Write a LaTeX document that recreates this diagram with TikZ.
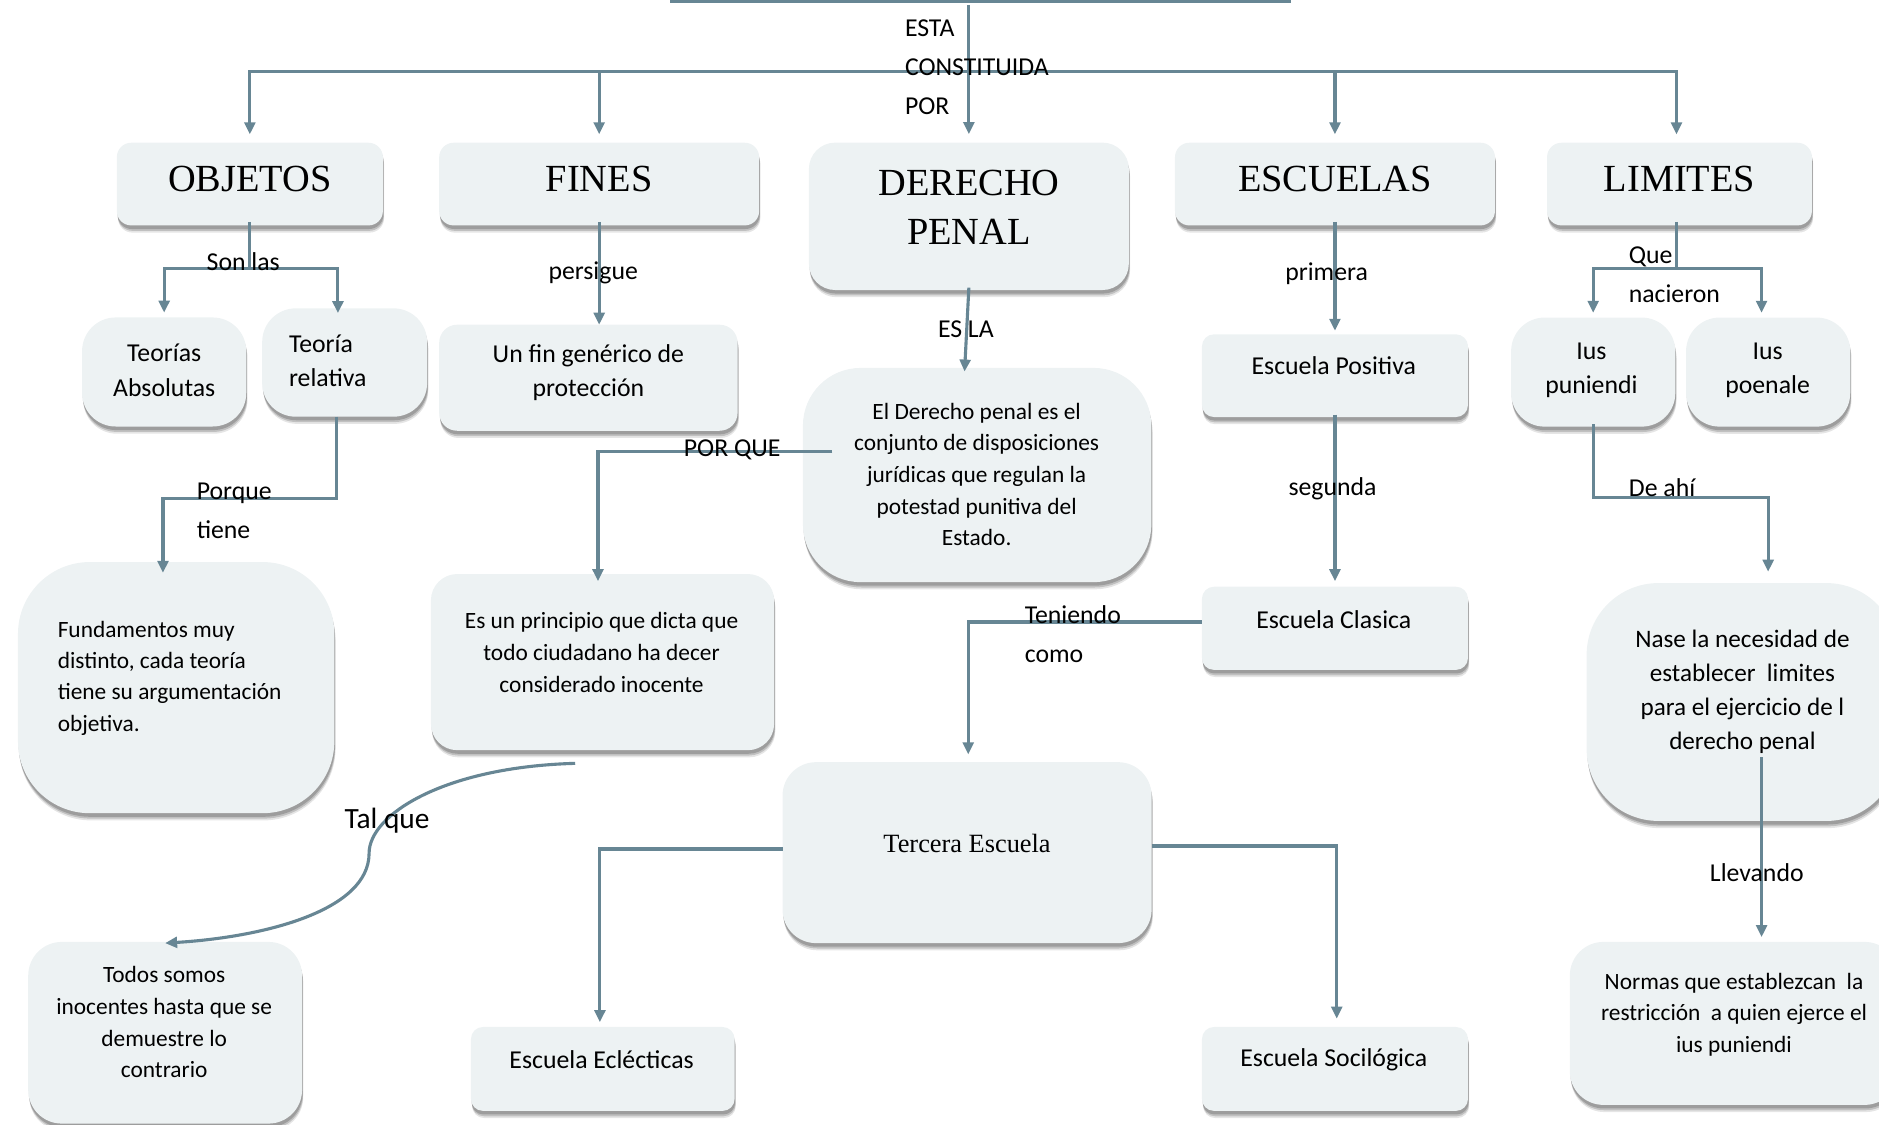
\documentclass[tikz,border=0pt]{standalone}
\usepackage{fontspec}
\setmainfont{Carlito}
\newfontfamily\serifttl{Liberation Serif}
\usetikzlibrary{arrows.meta,shadows}
\definecolor{lnc}{HTML}{678694}
\definecolor{boxc}{HTML}{EDF2F3}
\begin{document}
\begin{tikzpicture}[x=1pt,y=-1pt,
 box/.style={draw=none, fill=boxc, inner sep=0pt, outer sep=0pt,
   drop shadow={shadow xshift=1pt, shadow yshift=-6pt, opacity=0.10, fill=black},
   drop shadow={shadow xshift=0.8pt, shadow yshift=-4.5pt, opacity=0.16, fill=black},
   drop shadow={shadow xshift=0.5pt, shadow yshift=-3pt, opacity=0.18, fill=black}},
 conn/.style={draw=lnc, line width=2.6pt},
 arr/.style={conn, -{Triangle[width=9pt,length=10pt]}},
 lbl/.style={font=\fontsize{21.5}{32.5}\selectfont, inner sep=0pt, align=left},
 ttl/.style={font=\serifttl\fontsize{32}{41}\selectfont, inner sep=0pt, align=center},
 txs/.style={font=\fontsize{21.5}{28.8}\selectfont, inner sep=0pt, align=center},
 txl/.style={font=\fontsize{19.5}{26.4}\selectfont, inner sep=0pt, align=center},
]
\useasboundingbox (0,0) rectangle (1568,938);

% ---------- boxes ----------
\node[box, rounded corners=12pt, minimum width=222pt, minimum height=69pt] (obj) at (208.5,153.6) {};
\node[box, rounded corners=12pt, minimum width=267pt, minimum height=69pt] (fin) at (500,153.6) {};
\node[box, rounded corners=22pt, minimum width=267pt, minimum height=123pt] (dp) at (808.5,180.5) {};
\node[box, rounded corners=12pt, minimum width=267pt, minimum height=69pt] (esc) at (1114,153.6) {};
\node[box, rounded corners=12pt, minimum width=221pt, minimum height=69pt] (lim) at (1401.5,153.6) {};

\node[box, rounded corners=28pt, minimum width=137pt, minimum height=91pt] (tabs) at (137,310.4) {};
\node[box, rounded corners=28pt, minimum width=137.6pt, minimum height=90.4pt] (trel) at (287.6,302.5) {};
\node[box, rounded corners=15pt, minimum width=249pt, minimum height=88.5pt] (unfin) at (491,315.2) {};
\node[box, rounded corners=48pt, minimum width=290.7pt, minimum height=178.7pt] (edp) at (815.4,396.4) {};
\node[box, rounded corners=10pt, minimum width=222pt, minimum height=69pt] (epos) at (1114,313.5) {};
\node[box, rounded corners=28pt, minimum width=137pt, minimum height=91pt] (ipun) at (1329.5,310.5) {};
\node[box, rounded corners=28pt, minimum width=137pt, minimum height=91pt] (ipoe) at (1475.5,310.5) {};

\node[box, rounded corners=60pt, minimum width=264pt, minimum height=209.6pt] (fund) at (147,573.8) {};
\node[box, rounded corners=22pt, minimum width=286.4pt, minimum height=147pt] (princ) at (502.8,552.5) {};
\node[box, rounded corners=10pt, minimum width=222pt, minimum height=69.4pt] (clas) at (1114,524.3) {};
\node[box, rounded corners=60pt, minimum width=260pt, minimum height=198.5pt] (nase) at (1454,585.8) {};

\node[box, rounded corners=28pt, minimum width=228.5pt, minimum height=151.6pt] (todos) at (137.8,861.8) {};
\node[box, rounded corners=28pt, minimum width=308pt, minimum height=151pt] (terc) at (807,711.5) {};
\node[box, rounded corners=10pt, minimum width=220pt, minimum height=70pt] (ecl) at (503,892) {};
\node[box, rounded corners=10pt, minimum width=222pt, minimum height=70pt] (soc) at (1114,892) {};
\node[box, rounded corners=28pt, minimum width=274pt, minimum height=136pt] (normas) at (1447,854) {};

% ---------- connectors ----------
\coordinate (barL) at (559,0.8);
\coordinate (barR) at (1077,0.8);
\draw[conn, line width=3.4pt] (barL) -- (barR);
\coordinate (topc) at (808.5,4);
\coordinate (hub) at (808.5,60);
\draw[arr, shorten >=7pt] (topc) -- (dp.north);
\draw[arr, shorten >=7pt] (hub) -| (obj.north);
\draw[arr, shorten >=7pt] (hub) -| (fin.north);
\draw[arr, shorten >=7pt] (hub) -| (esc.north);
\draw[arr, shorten >=7pt] (hub) -| ([xshift=-2.5pt]lim.north);

\draw[conn] ([yshift=3pt]obj.south) -- ++(0,39) coordinate (objj);
\draw[arr, shorten >=4pt] (objj) -| (tabs.north);
\draw[arr, shorten >=-4pt] (objj) -| ([xshift=-5.6pt]trel.north);

\draw[arr] ([yshift=3pt]fin.south) -- (fin.south |- unfin.north);

\draw[arr] ([yshift=2pt]dp.south) -- ([xshift=-10.5pt,yshift=-3pt]edp.north);

\draw[arr, shorten >=3pt] ([yshift=3pt]esc.south) -- (epos.north);

\draw[conn] ([xshift=-2.5pt,yshift=3pt]lim.south) -- ++(0,39) coordinate (limj);
\draw[arr, shorten >=4pt] (limj) -| (ipun.north);
\draw[arr, shorten >=4pt] (limj) -| ([xshift=-5.5pt]ipoe.north);

\draw[arr, shorten >=-9pt] ([xshift=-6.6pt]trel.south) -- ++(0,68) -| ([xshift=-11pt]fund.north);

\draw[arr, shorten >=-6pt] ([xshift=24.5pt,yshift=20pt]edp.west) -| ([xshift=-3.8pt]princ.north);

\draw[arr] ([xshift=-22.8pt,yshift=-11pt]princ.south)
   .. controls (370,640) and (308,680) .. (308,712)
   .. controls (308,760) and (220,782) .. ([yshift=-1pt]todos.north);

\draw[arr, shorten >=4.6pt] ([yshift=2pt]epos.south) -- (clas.north);

\draw[arr, shorten >=6.5pt] ([yshift=5.3pt]clas.west) -| ([xshift=1pt]terc.north);

\draw[arr, shorten >=4pt] ([yshift=3pt]terc.west) -| ([xshift=-2.4pt]ecl.north);
\draw[arr, shorten >=7pt] ([yshift=5.5pt]terc.east) -| ([xshift=1.5pt]soc.north);

\draw[arr, shorten >=9.5pt] ([yshift=2pt]ipun.south) -- ++(0,61) -| ([xshift=21.5pt]nase.north);

\coordinate (naseOut) at ([xshift=16pt,yshift=-46pt]nase.center);
\draw[arr, shorten >=4pt] (naseOut) -- (naseOut |- normas.north);

% ---------- box texts ----------
\node[ttl] (objT) at (208.5,149) {OBJETOS};
\node[ttl] (finT) at (500,149) {FINES};
\node[ttl] (dpT) at (808.5,173) {DERECHO\\PENAL};
\node[ttl] (escT) at (1114,149) {ESCUELAS};
\node[ttl] (limT) at (1401.5,149) {LIMITES};

\node[txs] (tabsT) at (137,309) {Teorías\\Absolutas};
\node[txs, align=left, anchor=west] (trelT) at (241,301) {Teoría\\relativa};
\node[txs, font=\fontsize{21.5}{28}\selectfont] (unfinT) at (491,311) {Un fin genérico de\\protección};
\node[txl] (edpT) at (815,396) {El Derecho penal es el\\conjunto de disposiciones\\jurídicas que regulan la\\potestad punitiva del\\Estado.};
\node[txs] (eposT) at (1113,305) {Escuela Positiva};
\node[txs] (ipunT) at (1328,309) {Ius\\puniendi};
\node[txs] (ipoeT) at (1475,309) {Ius\\poenale};

\node[txl, align=left, anchor=west, font=\fontsize{19.5}{26}\selectfont] (fundT) at (48,566) {Fundamentos muy\\distinto, cada teoría\\tiene su argumentación\\objetiva.};
\node[txl] (princT) at (502,544.5) {Es un principio que dicta que\\todo ciudadano ha decer\\considerado inocente};
\node[txs] (clasT) at (1113,517) {Escuela Clasica};
\node[txs, font=\fontsize{21}{28.5}\selectfont] (naseT) at (1454,577.5) {Nase la necesidad de\\establecer\ \ limites\\para el ejercicio de l\\derecho penal};

\node[txl] (todosT) at (137,853) {Todos somos\\inocentes hasta que se\\demuestre lo\\contrario};
\node[font=\serifttl\fontsize{22}{26}\selectfont, inner sep=0pt] (tercT) at (807,703.6) {Tercera Escuela};
\node[txs] (eclT) at (502,884.5) {Escuela Eclécticas};
\node[txs] (socT) at (1113,884.5) {Escuela Socilógica};
\node[txl] (normasT) at (1447,846.5) {Normas que establezcan\ \ la\\restricción\ \ a quien ejerce el\\ius puniendi};

% ---------- connector labels ----------
\node[lbl, anchor=west] (lEsta) at (755,56) {ESTA\\CONSTITUIDA\\POR};
\node[lbl] (lSon) at (203,218) {Son las};
\node[lbl] (lPers) at (495,228) {persigue};
\node[lbl] (lEsla) at (806,275) {ES LA};
\node[lbl] (lPrim) at (1107,228) {primera};
\node[lbl, anchor=west] (lQue) at (1359,229) {Que\\nacieron};
\node[lbl, anchor=west] (lPorq) at (164,426.5) {Porque\\tiene};
\node[lbl] (lPorQ) at (611,375) {POR QUE};
\node[lbl] (lSeg) at (1112,408) {segunda};
\node[lbl, anchor=west] (lTen) at (855,529) {Teniendo\\como};
\node[lbl] (lDe) at (1387,407) {De ahí};
\node[lbl, font=\fontsize{24.5}{30}\selectfont] (lTal) at (323,685) {Tal que};
\node[lbl] (lLlev) at (1466,728) {Llevando};
\end{tikzpicture}
\end{document}
